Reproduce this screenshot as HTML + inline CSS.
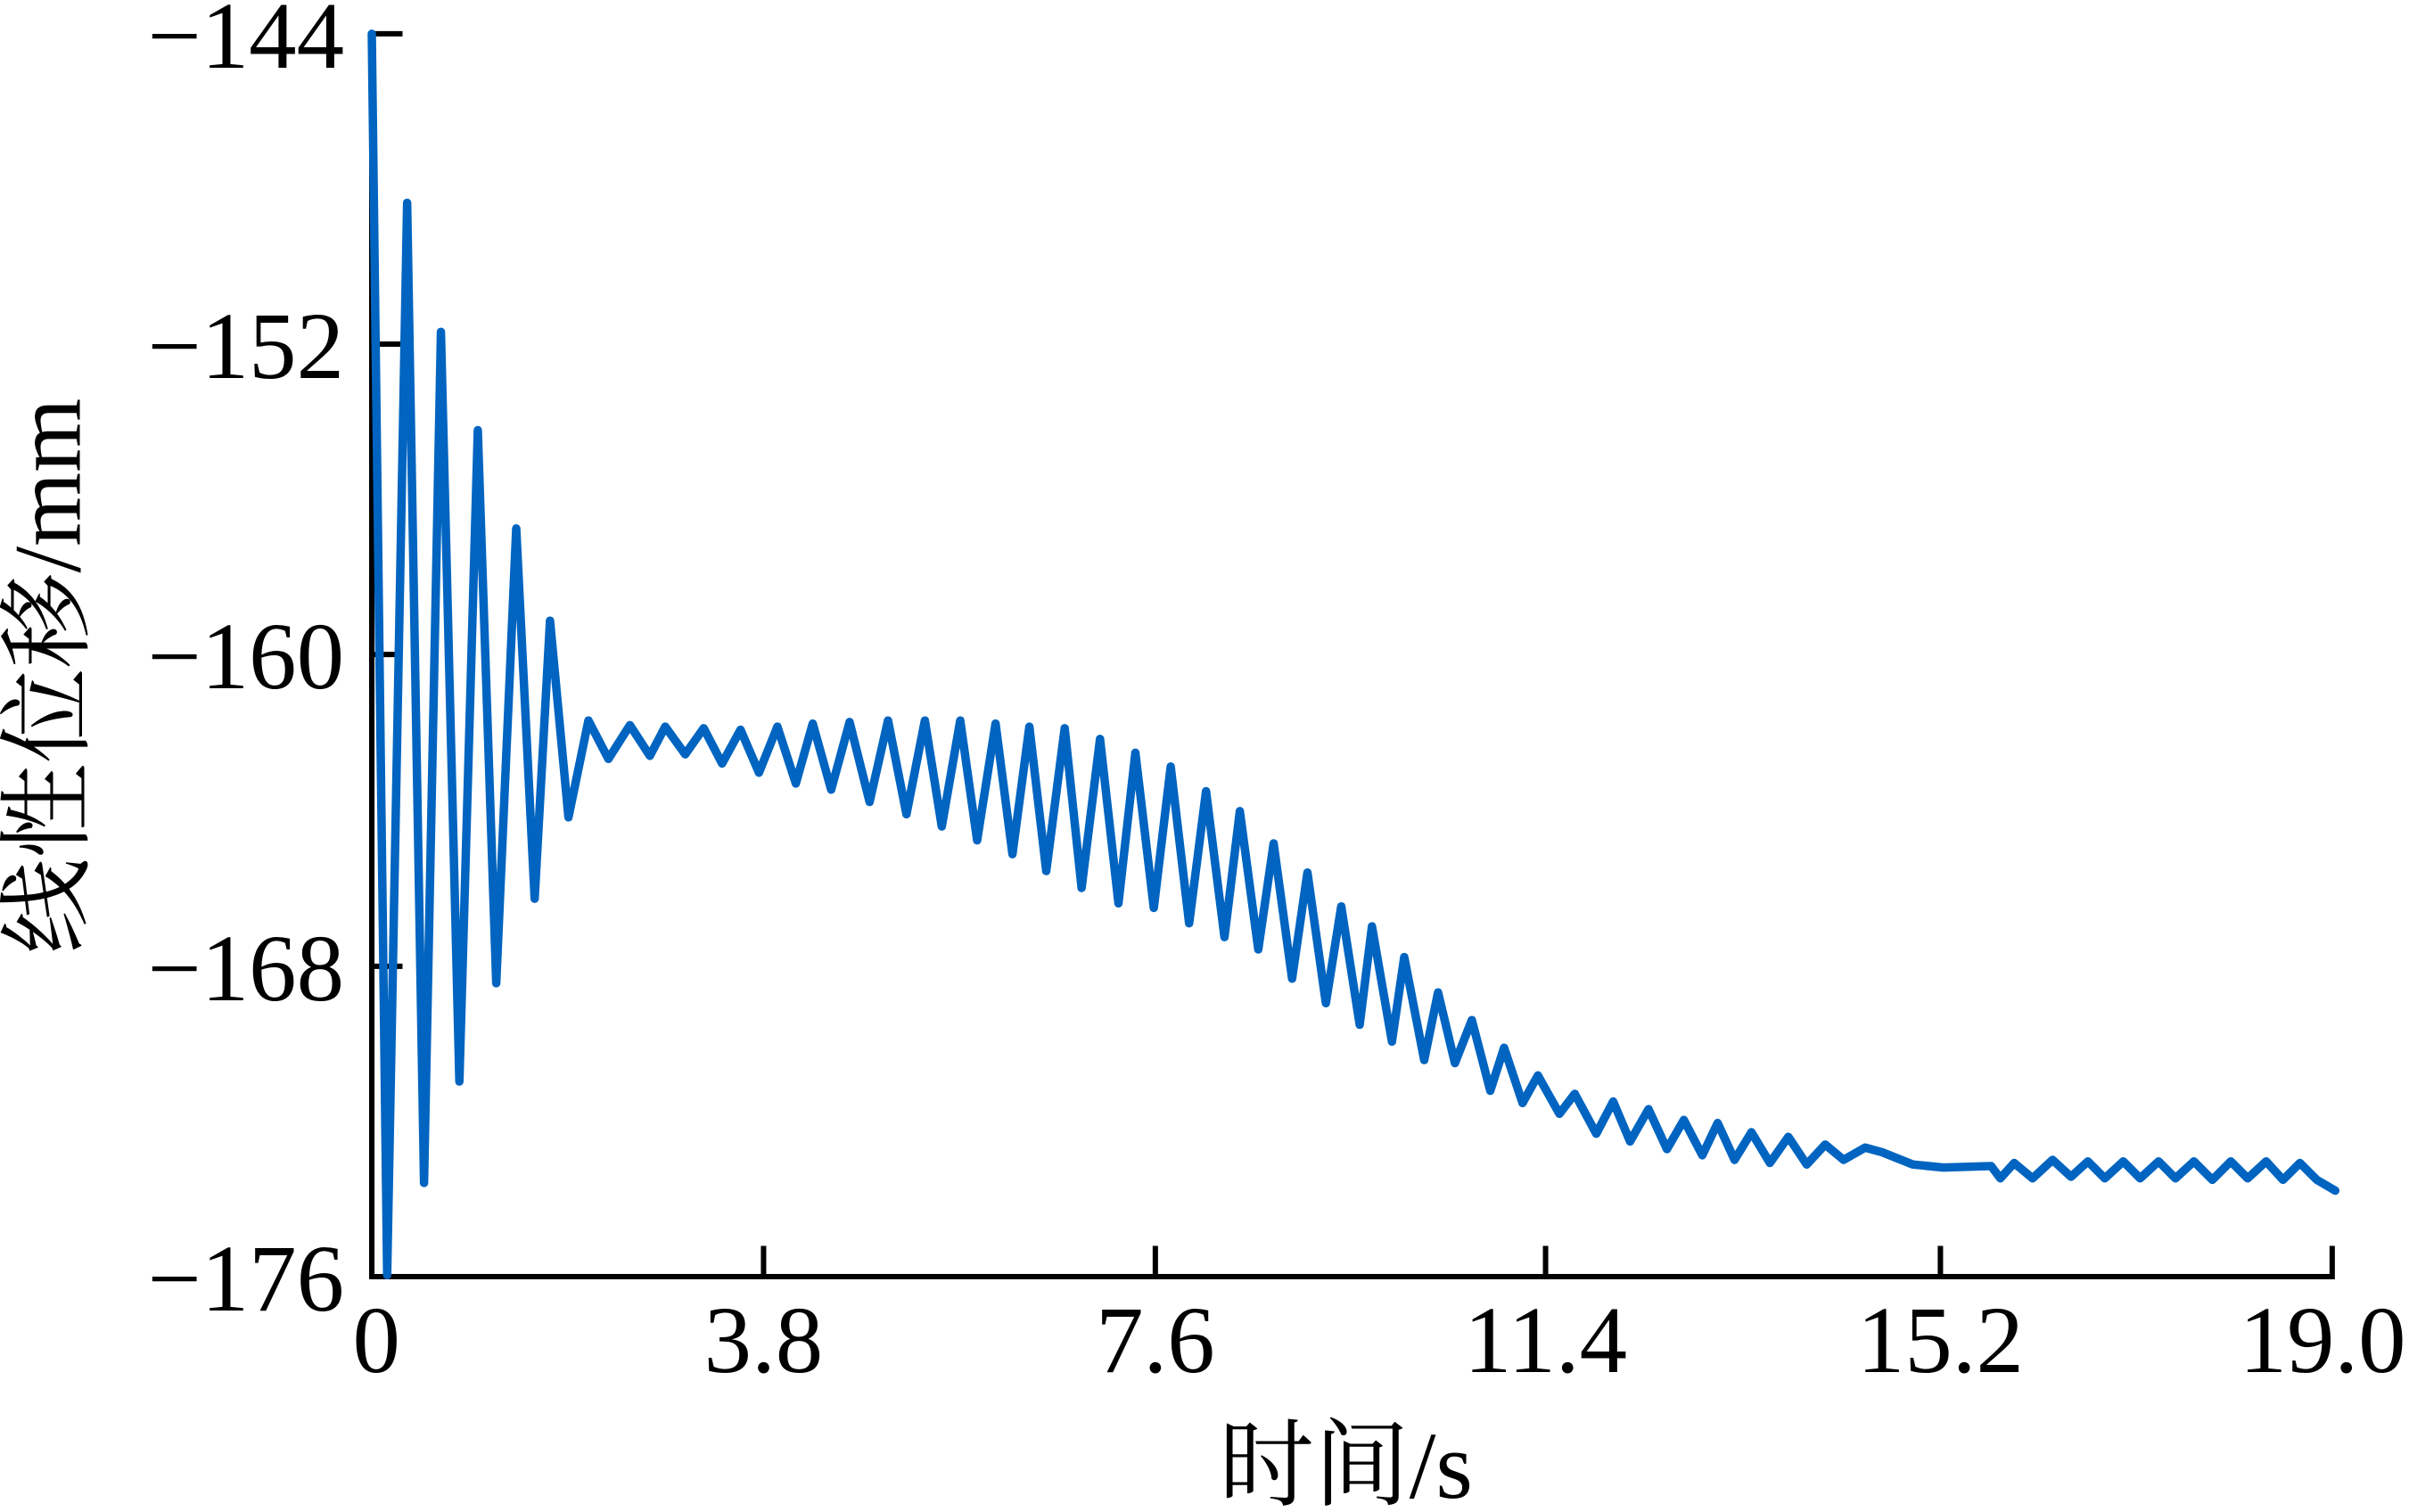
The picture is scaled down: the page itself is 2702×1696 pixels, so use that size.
<!DOCTYPE html>
<html><head><meta charset="utf-8"><style>
html,body{margin:0;padding:0;background:#fff;}
svg{display:block;}
text{font-family:"Liberation Serif","Times New Roman","Noto Serif CJK SC",serif;fill:#000;}
</style></head><body>
<svg width="2702" height="1696" viewBox="0 0 1568 984.2" preserveAspectRatio="none" xmlns="http://www.w3.org/2000/svg">
<g stroke="#000" stroke-width="3.5" fill="none">
<polyline points="262,22 242,22 242,831 1518,831 1518,811"/>
<line x1="242" y1="224" x2="262" y2="224"/>
<line x1="242" y1="426" x2="262" y2="426"/>
<line x1="242" y1="629" x2="262" y2="629"/>
<line x1="497" y1="831" x2="497" y2="811"/>
<line x1="752" y1="831" x2="752" y2="811"/>
<line x1="1006" y1="831" x2="1006" y2="811"/>
<line x1="1263" y1="831" x2="1263" y2="811"/>
</g>
<polyline fill="none" stroke="#0064c0" stroke-width="5.5" stroke-linejoin="round" stroke-linecap="round" points="242,22 252,830 265,132 276,770 287,216 299,704 311,280 323,640 336,344 348,585 358,404 370,532 383,469 396,494 410,472 423,492 433,473 446,491 458,474 470,497 482,475 494,503 506,473 518,510 529,471 541,514 553,470 566,522 578,469 590,530 602,469 613,538 625,469 636,547 648,471 659,556 670,473 681,567 693,474 704,578 716,481 728,588 739,490 751,591 762,499 774,601 785,515 797,610 807,528 819,618 829,549 841,637 851,568 863,653 873,590 885,667 893,603 906,678 914,623 927,690 936,646 947,692 958,664 970,710 979,682 991,718 1001,700 1015,725 1025,712 1039,738 1050,717 1061,743 1073,722 1085,748 1096,729 1108,752 1118,731 1129,755 1140,737 1152,757 1164,740 1176,758 1188,745 1200,755 1214,747 1225,750 1245,758 1265,760 1296,759 1302,767 1311,757 1323,767 1336,755 1348,766 1359,756 1370,767 1382,756 1393,767 1405,756 1416,767 1428,756 1440,768 1452,756 1463,767 1475,756 1486,768 1497,757 1508,768 1520,775"/>
<g font-size="62" text-anchor="end">
<text x="224" y="44">−144</text>
<text x="224" y="246">−152</text>
<text x="224" y="448">−160</text>
<text x="224" y="651">−168</text>
<text x="224" y="853">−176</text>
<text x="1566" y="893">19.0</text>
</g>
<g font-size="62" text-anchor="middle">
<text x="245" y="893">0</text>
<text x="497" y="893">3.8</text>
<text x="752" y="893">7.6</text>
<text x="1006" y="893">11.4</text>
<text x="1263" y="893">15.2</text>
<text x="876" y="975">时间/s</text>
<text transform="translate(52,440) rotate(-90)">线性位移/mm</text>
</g>
</svg>
</body></html>
